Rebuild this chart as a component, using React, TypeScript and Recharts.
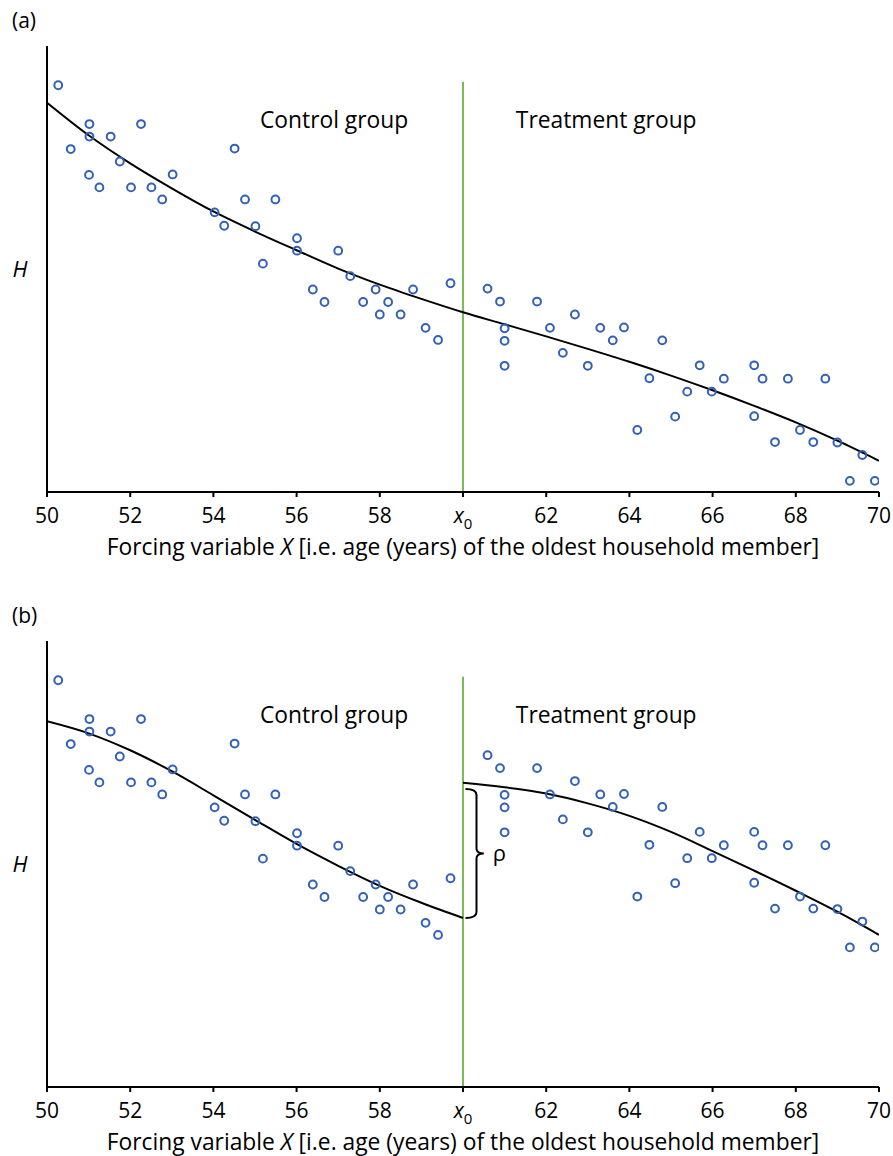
import React from "react";
import {
  ComposedChart,
  XAxis,
  YAxis,
  Line,
  Scatter,
  ReferenceLine,
  ReferenceArea,
  ReferenceDot,
} from "recharts";

// ---- data (H in arbitrary units, axis 0..100) ----
const xTicks = [50, 52, 54, 56, 58, 60, 62, 64, 66, 68, 70];
const cutoff = 60;

const controlAge = [
  50.27, 50.57, 51.02, 51.02, 51.01, 51.26, 51.53, 51.75, 52.02, 52.26, 52.51, 52.77,
  53.02, 54.03, 54.26, 54.51, 54.76, 55.01, 55.19, 55.49, 56.01, 56.01, 56.39, 56.67,
  57.0, 57.29, 57.6, 57.9, 58.0, 58.2, 58.5, 58.8, 59.1, 59.4, 59.7,
];
const controlH = [
  91.2, 76.9, 82.5, 79.7, 71.1, 68.3, 79.7, 74.1, 68.3, 82.5, 68.3, 65.6,
  71.2, 62.7, 59.7, 77.0, 65.6, 59.6, 51.2, 65.6, 56.9, 54.1, 45.4, 42.6,
  54.1, 48.4, 42.6, 45.4, 39.8, 42.6, 39.8, 45.4, 36.8, 34.1, 46.8,
];

const treatAge = [
  60.59, 60.89, 61.0, 61.0, 61.0, 61.78, 62.09, 62.4, 62.69, 63.0, 63.3, 63.6,
  63.87, 64.19, 64.48, 64.79, 65.1, 65.39, 65.69, 65.98, 66.27, 67.0, 67.0, 67.2,
  67.5, 67.81, 68.1, 68.42, 68.71, 69.0, 69.3, 69.6, 69.9,
];
const treatHA = [
  45.6, 42.7, 36.7, 33.9, 28.3, 42.7, 36.8, 31.2, 39.8, 28.3, 36.8, 34.0,
  36.9, 13.9, 25.5, 34.0, 16.9, 22.5, 28.4, 22.5, 25.4, 28.4, 17.0, 25.4,
  11.2, 25.4, 13.9, 11.2, 25.4, 11.1, 2.5, 8.3, 2.5,
];
const treatHB = [
  74.4, 71.5, 65.5, 62.7, 57.1, 71.5, 65.6, 60.0, 68.6, 57.1, 65.6, 62.8,
  65.7, 42.7, 54.3, 62.8, 45.7, 51.3, 57.2, 51.3, 54.2, 57.2, 45.8, 54.2,
  40.0, 54.2, 42.7, 40.0, 54.2, 39.9, 31.3, 37.1, 31.3,
];

// fitted curves, read at whole years
const fitAgeAll = [50, 51, 52, 53, 54, 55, 56, 57, 58, 59, 60, 61, 62, 63, 64, 65, 66, 67, 68, 69, 70];
const fitHA = [87.3, 80.0, 73.7, 68.1, 62.9, 58.4, 54.2, 50.1, 46.5, 43.3, 40.3, 37.6, 34.9, 32.1, 29.2, 26.1, 22.8, 19.3, 15.6, 11.5, 7.0];

const fitAgeLeft = [50, 51, 52, 53, 54, 55, 56, 57, 58, 59, 60];
const fitAgeRight = [60, 61, 62, 63, 64, 65, 66, 67, 68, 69, 70];
const fitHBLeft = [82.0, 79.3, 75.5, 70.8, 65.4, 59.9, 54.5, 49.6, 45.1, 41.3, 37.9];
const fitHBRight = [68.2, 67.2, 65.8, 63.6, 60.8, 57.2, 52.9, 48.5, 44.0, 39.3, 34.1];

const BLUE = "#3161b8";
const GREEN = "#68b545";
const FONT = "'Open Sans', sans-serif";

const pts = (xs: number[], hs: number[]) => xs.map((x, i) => ({ x, h: hs[i] }));

const Ring = (p: any) => (
  <circle cx={p.cx} cy={p.cy} r={3.9} fill="none" stroke={BLUE} strokeWidth={2} />
);

const AgeTick = ({ x, y, payload }: any) => {
  if (payload.value === cutoff) {
    return (
      <text x={x} y={y} dy={15} textAnchor="middle" fontSize={21} fill="#000" fontFamily={FONT}>
        <tspan fontStyle="italic">x</tspan>
        <tspan fontSize={15} dy={6}>0</tspan>
      </text>
    );
  }
  return (
    <text x={x} y={y} dy={15} textAnchor="middle" fontSize={21} fill="#000" fontFamily={FONT}>
      {payload.value}
    </text>
  );
};

const TitleLabel = (props: any) => {
  const vb = props.viewBox || { x: 47, y: 492, width: 832 };
  return (
    <text x={vb.x + vb.width / 2} y={vb.y + 63} textAnchor="middle" fontSize={22.8} fill="#000" fontFamily={FONT}>
      Forcing variable <tspan fontStyle="italic">X</tspan> [i.e. age (years) of the oldest household member]
    </text>
  );
};

const HLabel = (props: any) => {
  const vb = props.viewBox || { x: 0, y: 46, width: 47, height: 446 };
  return (
    <text x={20} y={vb.y + vb.height / 2 + 8} textAnchor="middle" fontSize={22} fontStyle="italic" fill="#000" fontFamily={FONT}>
      H
    </text>
  );
};

const groupText = (label: string) => (p: any) => (
  <text x={p.cx} y={p.cy} fontSize={22.8} fill="#000" fontFamily={FONT}>
    {label}
  </text>
);

const Brace = (p: any) => {
  const { x, y, width, height } = p;
  const vx = x + 11;
  const tip = x + width;
  const mid = y + height / 2;
  const b = y + height;
  const d = `M${x},${y} Q${vx},${y} ${vx},${y + 6} L${vx},${mid - 5} Q${vx},${mid} ${tip},${mid} Q${vx},${mid} ${vx},${mid + 5} L${vx},${b - 6} Q${vx},${b} ${x},${b}`;
  return (
    <g>
      <path d={d} fill="none" stroke="#000" strokeWidth={2} />
      <text x={tip + 9} y={mid + 7} fontSize={22} fill="#000" fontFamily={FONT}>ρ</text>
    </g>
  );
};

function Panel({ tag, height, treatH, lines, brace }: any) {
  return (
    <div style={{ position: "relative", width: 893, height }}>
      <div style={{ position: "absolute", left: 12, top: 8, fontSize: 21, lineHeight: "24px", fontFamily: FONT }}>
        {tag}
      </div>
      <ComposedChart width={893} height={height} margin={{ top: 46, right: 14, bottom: 0, left: 0 }}>
        <XAxis
          type="number"
          dataKey="x"
          domain={[50, 70]}
          ticks={xTicks}
          allowDataOverflow
          height={height - 46 - 446}
          tickSize={5}
          tickMargin={11}
          tick={<AgeTick />}
          axisLine={{ stroke: "#000", strokeWidth: 2 }}
          tickLine={{ stroke: "#000", strokeWidth: 2 }}
          label={<TitleLabel />}
        />
        <YAxis
          type="number"
          dataKey="h"
          domain={[0, 100]}
          width={47}
          tick={false}
          tickLine={false}
          axisLine={{ stroke: "#000", strokeWidth: 2 }}
          label={<HLabel />}
        />
        <ReferenceLine segment={[{ x: cutoff, y: 0 }, { x: cutoff, y: 92 }]} stroke={GREEN} strokeWidth={1.8} />
        <ReferenceDot x={55.12} y={81.6} r={0} shape={groupText("Control group")} />
        <ReferenceDot x={61.27} y={81.6} r={0} shape={groupText("Treatment group")} />
        {lines.map((l: any, i: number) => (
          <Line
            key={i}
            data={l}
            dataKey="h"
            type="monotone"
            stroke="#000"
            strokeWidth={2}
            dot={false}
            activeDot={false}
            isAnimationActive={false}
          />
        ))}
        <Scatter data={pts(controlAge, controlH)} dataKey="h" shape={Ring} isAnimationActive={false} />
        <Scatter data={pts(treatAge, treatH)} dataKey="h" shape={Ring} isAnimationActive={false} />
        {brace && <ReferenceArea x1={60.06} x2={60.5} y1={37.9} y2={66.8} shape={Brace} />}
      </ComposedChart>
    </div>
  );
}

export default function App() {
  return (
    <div style={{ width: 893, background: "#fff", fontFamily: FONT }}>
      <style>{`body{margin:0;background:#fff}`}</style>
      <Panel tag="(a)" height={595} treatH={treatHA} lines={[pts(fitAgeAll, fitHA)]} brace={false} />
      <Panel
        tag="(b)"
        height={561}
        treatH={treatHB}
        lines={[pts(fitAgeLeft, fitHBLeft), pts(fitAgeRight, fitHBRight)]}
        brace
      />
    </div>
  );
}
